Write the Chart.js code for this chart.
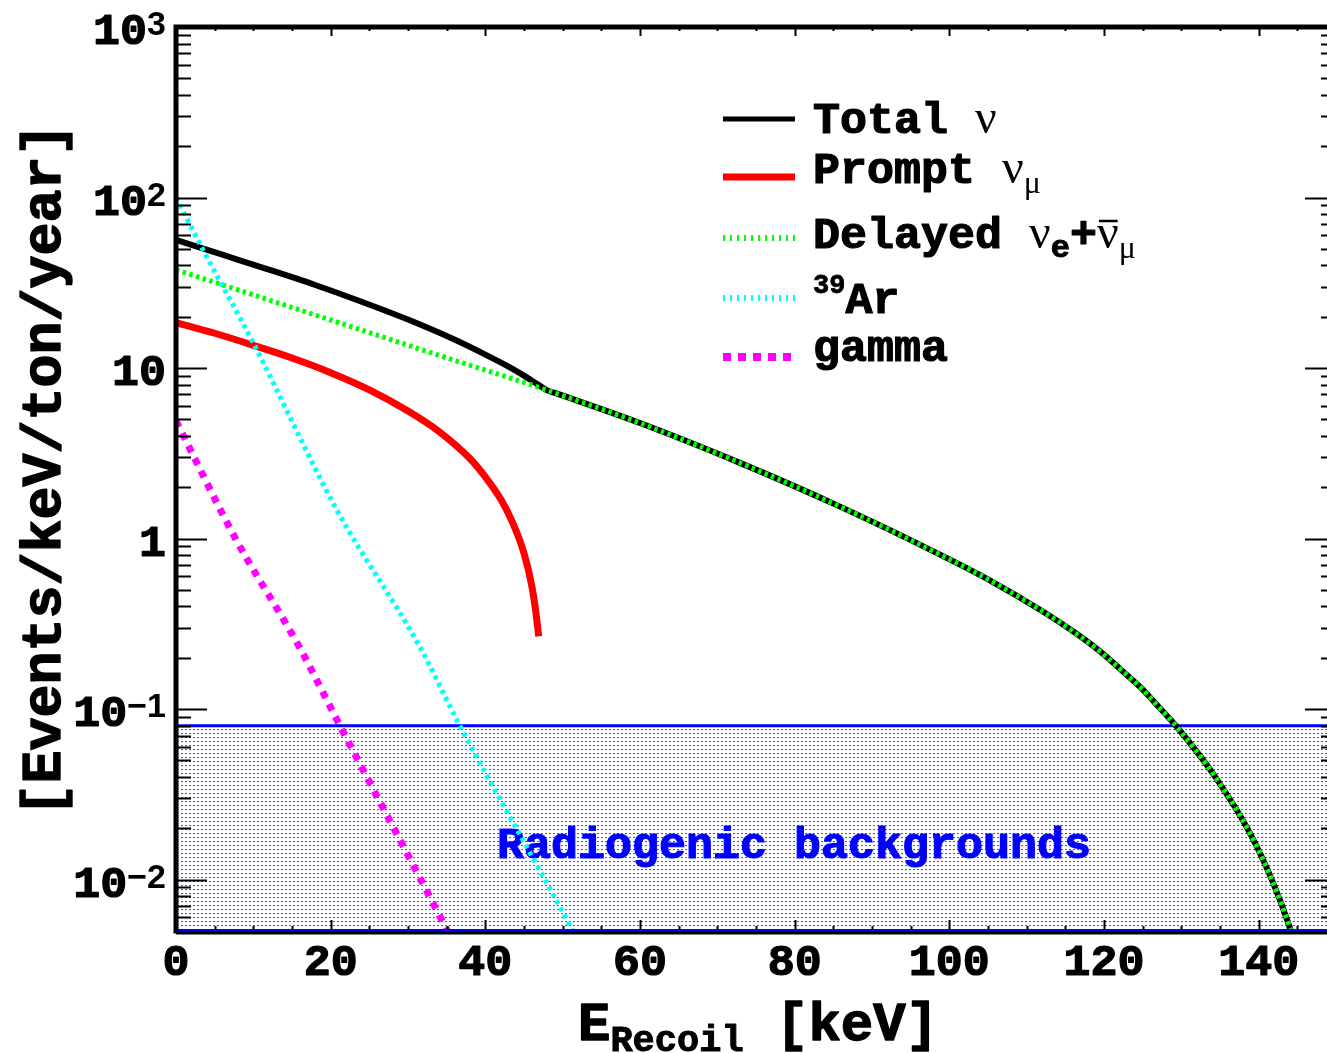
<!DOCTYPE html>
<html><head><meta charset="utf-8">
<script src="https://cdn.jsdelivr.net/npm/chart.js@4.4.0/dist/chart.umd.min.js"></script>
<style>
html,body{margin:0;padding:0;background:#fff;overflow:hidden}
#wrap{width:1327px;height:1053px;overflow:hidden;position:relative;background:#fff}
canvas{display:block}
</style></head><body>
<div id="wrap"><canvas id="c" width="1345" height="1053" style="width:1345px;height:1053px"></canvas></div>
<script>
// ---- data ----
const totalE   = [0, 6, 12, 18, 24, 30, 36, 40, 43, 45, 46.5, 47.94, 49.0, 60.0, 72.93, 85.87, 98.8, 105, 111.73, 116, 119.49, 123, 124.66, 127, 129.41, 134.36, 138.89, 141.9, 144.06, 144.35];
const totalV   = [56.5, 46.2, 37.8, 30.7, 24.5, 19.25, 14.7, 12.0, 10.2, 9.03, 8.18, 7.43, 7.15, 4.76, 2.78, 1.54, 0.806, 0.577, 0.383, 0.286, 0.218, 0.158, 0.135, 0.104, 0.0788, 0.0402, 0.0187, 0.00952, 0.00519, 0.0047];
const promptE  = [0, 5, 10, 15, 20, 25, 30, 34, 38, 40, 42, 43.5, 45, 46, 46.5, 46.9];
const promptV  = [18.5, 16.0, 13.6, 11.45, 9.4, 7.45, 5.6, 4.25, 2.95, 2.3, 1.7, 1.25, 0.82, 0.53, 0.38, 0.267];
const delayedE = [0, 12, 24, 36, 42, 47.94, 49.0, 60.0, 72.93, 85.87, 98.8, 105, 111.73, 116, 119.49, 123, 124.66, 127, 129.41, 134.36, 138.89, 141.9, 144.06, 144.35];
const delayedV = [37.7, 25.1, 16.7, 11.1, 9.1, 7.43, 7.15, 4.76, 2.78, 1.54, 0.806, 0.577, 0.383, 0.286, 0.218, 0.158, 0.135, 0.104, 0.0788, 0.0402, 0.0187, 0.00952, 0.00519, 0.0047];
const ar39E    = [0, 3.5, 10.0, 20.8, 31.5, 36.7, 51.3, 51.6];
const ar39V    = [100, 49.3, 14.0, 1.47, 0.233, 0.08, 0.005, 0.0047];
const gammaE   = [0, 7.8, 15.8, 21.2, 35.1, 35.4];
const gammaV   = [4.9, 0.98, 0.238, 0.08, 0.005, 0.0047];
const bandE    = [0, 150];
const bandV    = [0.08, 0.08];

const xTickValues = [0, 20, 40, 60, 80, 100, 120, 140];
const xTickLabels = ['0', '20', '40', '60', '80', '100', '120', '140'];
const yTickValues = [0.01, 0.1, 1, 10, 100, 1000];
const yTickLabels = [['10', '\u22122'], ['10', '\u22121'], ['1', ''], ['10', ''], ['10', '2'], ['10', '3']];

// ---- helpers ----
const pts = (xs, ys) => xs.map((x, i) => ({x, y: ys[i]}));
const MONO = (s) => 'bold ' + s + 'px "Liberation Mono", "Courier New", monospace';
const SERIF = (s) => s + 'px "Liberation Serif", "Times New Roman", serif';
const SANS = (s) => 'bold ' + s + 'px "Liberation Sans", Arial, sans-serif';

const canvas = document.getElementById('c');
const ctx0 = canvas.getContext('2d');
const pc = document.createElement('canvas');
pc.width = 4; pc.height = 4;
const pctx = pc.getContext('2d');
pctx.fillStyle = '#ffffff'; pctx.fillRect(0, 0, 4, 4);
pctx.fillStyle = '#4a4aff'; pctx.fillRect(1, 1, 2, 1);
pctx.fillStyle = '#f0f0ff'; pctx.fillRect(1, 2, 2, 1);
const dotPattern = ctx0.createPattern(pc, 'repeat');

function heavyText(ctx, t, x, y, color, w) {
  ctx.fillStyle = color;
  ctx.fillText(t, x, y);
  ctx.strokeStyle = color;
  ctx.lineWidth = w;
  ctx.lineJoin = 'round';
  ctx.setLineDash([]);
  ctx.strokeText(t, x, y);
}

function rich(ctx, x, y, parts) {
  for (const p of parts) {
    ctx.font = p.f;
    ctx.textAlign = 'left';
    ctx.textBaseline = 'alphabetic';
    const w = ctx.measureText(p.t).width;
    if (p.heavy) heavyText(ctx, p.t, x, y + (p.dy || 0), p.c || '#000', p.heavy);
    else { ctx.fillStyle = p.c || '#000'; ctx.fillText(p.t, x, y + (p.dy || 0)); }
    if (p.bar) {
      ctx.strokeStyle = p.c || '#000';
      ctx.lineWidth = 2.5;
      ctx.beginPath();
      ctx.moveTo(x + 2, y - 27); ctx.lineTo(x + w - 1, y - 27);
      ctx.stroke();
    }
    x += w;
  }
  return x;
}

const decor = {
  id: 'decor',
  afterDatasetDraw(chart, args) {
    if (args.meta.label !== 'band') return;
    const ctx = chart.ctx;
    ctx.save();
    ctx.font = MONO(45);
    ctx.textAlign = 'left';
    ctx.textBaseline = 'alphabetic';
    heavyText(ctx, 'Radiogenic backgrounds', 497, 858, '#0000ff', 1.2);
    ctx.restore();
  },
  afterDatasetsDraw(chart) {
    const ctx = chart.ctx;
    const a = chart.chartArea;
    const xs = chart.scales.x, ys = chart.scales.y;
    ctx.save();
    ctx.strokeStyle = '#000';
    ctx.lineWidth = 2;
    for (let v = 0; v <= 150; v += 5) {
      const px = Math.round(xs.getPixelForValue(v)) + 0.5;
      const major = xTickValues.includes(v);
      ctx.beginPath();
      ctx.moveTo(px, a.bottom); ctx.lineTo(px, a.bottom - (major ? 11 : 5));
      ctx.moveTo(px, a.top); ctx.lineTo(px, a.top + (major ? 9 : 4));
      ctx.stroke();
    }
    for (let e = -3; e <= 3; e++) {
      for (let m = 1; m <= 9; m++) {
        const v = m * Math.pow(10, e);
        if (v < 0.005 - 1e-12 || v > 1000 + 1e-9) continue;
        const py = Math.round(ys.getPixelForValue(v)) + 0.5;
        const len = m === 1 ? 31 : 15;
        ctx.beginPath();
        ctx.moveTo(a.left, py); ctx.lineTo(a.left + len, py);
        ctx.moveTo(a.right, py); ctx.lineTo(a.right - len, py);
        ctx.stroke();
      }
    }
    ctx.lineWidth = 5;
    ctx.strokeStyle = '#000';
    ctx.beginPath();
    ctx.moveTo(a.left, a.top); ctx.lineTo(a.right, a.top);
    ctx.moveTo(a.left, a.top - 2.5); ctx.lineTo(a.left, a.bottom + 2.5);
    ctx.moveTo(a.right, a.top - 2.5); ctx.lineTo(a.right, a.bottom + 2.5);
    ctx.moveTo(a.left, a.bottom + 1); ctx.lineTo(a.right, a.bottom + 1);
    ctx.stroke();
    ctx.strokeStyle = '#0000ff';
    ctx.lineWidth = 2;
    ctx.beginPath();
    ctx.moveTo(a.left + 2, a.bottom - 1); ctx.lineTo(a.right, a.bottom - 1);
    ctx.stroke();
    ctx.restore();
  },
  afterDraw(chart) {
    const ctx = chart.ctx;
    const xs = chart.scales.x, ys = chart.scales.y;
    ctx.save();
    ctx.font = MONO(45);
    ctx.textAlign = 'center';
    ctx.textBaseline = 'alphabetic';
    xTickValues.forEach((v, i) => {
      heavyText(ctx, xTickLabels[i], xs.getPixelForValue(v), 975, '#000', 1.2);
    });
    yTickValues.forEach((v, i) => {
      const py = ys.getPixelForValue(v);
      const [base, exp] = yTickLabels[i];
      ctx.font = SANS(34);
      const ew = exp ? ctx.measureText(exp).width : 0;
      ctx.font = MONO(45);
      const bw = ctx.measureText(base).width;
      const right = 166;
      ctx.textAlign = 'left';
      heavyText(ctx, base, right - ew - bw, py + 17, '#000', 1.2);
      if (exp) {
        ctx.font = SANS(34);
        ctx.fillStyle = '#000';
        ctx.fillText(exp, right - ew, py + 8);
      }
    });
    ctx.save();
    ctx.translate(60, 470);
    ctx.rotate(-Math.PI / 2);
    ctx.font = MONO(55);
    ctx.textAlign = 'center';
    heavyText(ctx, '[Events/keV/ton/year]', 0, 0, '#000', 1.4);
    ctx.restore();
    rich(ctx, 578, 1040, [
      {t: 'E', f: MONO(54), heavy: 1.4},
      {t: 'Recoil', f: MONO(37), dy: 11, heavy: 1},
      {t: ' [keV]', f: MONO(54), heavy: 1.4}
    ]);
    const lx0 = 723, lx1 = 795, tx = 813;
    ctx.lineCap = 'butt';
    ctx.setLineDash([]);
    ctx.strokeStyle = '#000'; ctx.lineWidth = 5;
    ctx.beginPath(); ctx.moveTo(lx0, 119); ctx.lineTo(lx1, 119); ctx.stroke();
    rich(ctx, tx, 133, [{t: 'Total ', f: MONO(45), heavy: 1.2}, {t: '\u03bd', f: SERIF(48)}]);
    ctx.strokeStyle = '#ff0000'; ctx.lineWidth = 7;
    ctx.beginPath(); ctx.moveTo(lx0, 177); ctx.lineTo(lx1, 177); ctx.stroke();
    rich(ctx, tx, 183, [{t: 'Prompt ', f: MONO(45), heavy: 1.2}, {t: '\u03bd', f: SERIF(48)}, {t: '\u03bc', f: SERIF(32), dy: 10}]);
    ctx.setLineDash([2, 5]);
    ctx.strokeStyle = '#00ff00'; ctx.lineWidth = 6;
    ctx.beginPath(); ctx.moveTo(lx0, 238); ctx.lineTo(lx1, 238); ctx.stroke();
    ctx.setLineDash([]);
    rich(ctx, tx, 248, [
      {t: 'Delayed ', f: MONO(45), heavy: 1.2}, {t: '\u03bd', f: SERIF(48)}, {t: 'e', f: MONO(32), dy: 9, heavy: 1},
      {t: '+', f: MONO(45), heavy: 1.2}, {t: '\u03bd', f: SERIF(48), bar: true}, {t: '\u03bc', f: SERIF(32), dy: 10}
    ]);
    ctx.setLineDash([2, 5]);
    ctx.strokeStyle = '#00ffff'; ctx.lineWidth = 6;
    ctx.beginPath(); ctx.moveTo(lx0, 298); ctx.lineTo(lx1, 298); ctx.stroke();
    ctx.setLineDash([]);
    rich(ctx, tx, 313, [{t: '39', f: MONO(27), dy: -20, heavy: 0.8}, {t: 'Ar', f: MONO(45), heavy: 1.2}]);
    ctx.setLineDash([8, 7]);
    ctx.strokeStyle = '#ff00ff'; ctx.lineWidth = 8;
    ctx.beginPath(); ctx.moveTo(lx0, 357); ctx.lineTo(lx1, 357); ctx.stroke();
    ctx.setLineDash([]);
    rich(ctx, tx, 361, [{t: 'gamma', f: MONO(45), heavy: 1.2}]);
    ctx.restore();
  }
};

new Chart(canvas, {
  type: 'line',
  data: {
    datasets: [
      {label: 'gamma', data: pts(gammaE, gammaV), borderColor: '#ff00ff', borderWidth: 7, borderDash: [7, 7], order: 1, cubicInterpolationMode: 'monotone'},
      {label: 'Ar', data: pts(ar39E, ar39V), borderColor: '#00ffff', borderWidth: 5, borderDash: [4, 4], order: 2, cubicInterpolationMode: 'monotone'},
      {label: 'Delayed', data: pts(delayedE, delayedV), borderColor: '#00ff00', borderWidth: 5, borderDash: [3.5, 3.5], order: 3, cubicInterpolationMode: 'monotone'},
      {label: 'Prompt', data: pts(promptE, promptV), borderColor: '#ff0000', borderWidth: 7, order: 4, cubicInterpolationMode: 'monotone'},
      {label: 'Total', data: pts(totalE, totalV), borderColor: '#000000', borderWidth: 6, order: 5, cubicInterpolationMode: 'monotone'},
      {label: 'band', data: pts(bandE, bandV), borderColor: '#0000ff', borderWidth: 3, backgroundColor: dotPattern, fill: 'start', order: 10, tension: 0}
    ]
  },
  options: {
    responsive: false,
    devicePixelRatio: 1,
    animation: false,
    layout: {padding: {left: 176, top: 27, right: 9, bottom: 122}},
    elements: {point: {radius: 0}, line: {fill: false, borderCapStyle: 'butt'}},
    plugins: {legend: {display: false}, tooltip: {enabled: false}},
    scales: {
      x: {type: 'linear', min: 0, max: 150, display: false},
      y: {type: 'logarithmic', min: 0.005, max: 1000, display: false}
    }
  },
  plugins: [decor]
});
</script>
</body></html>
